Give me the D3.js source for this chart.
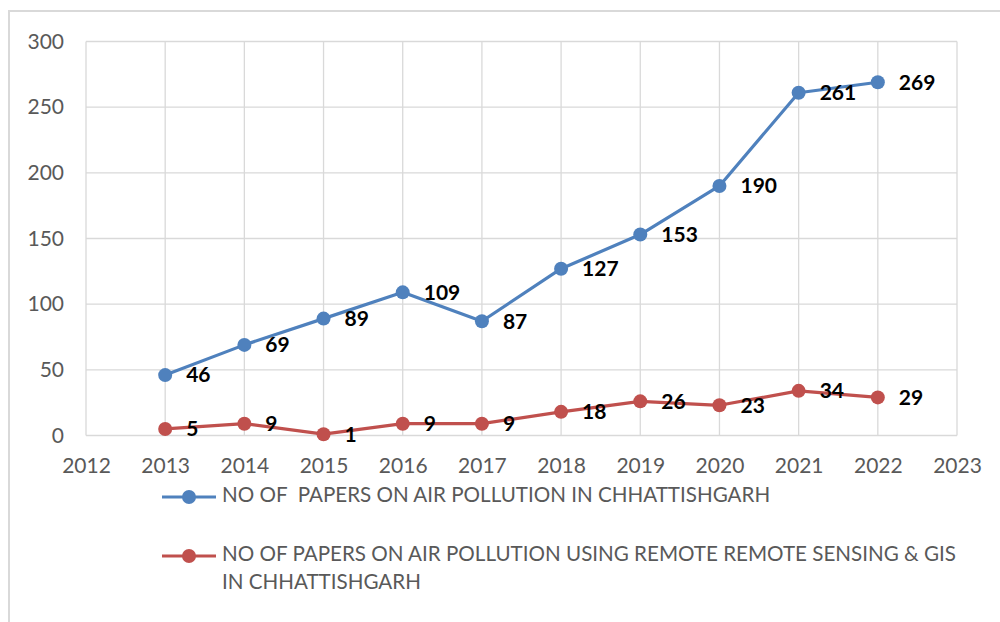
<!DOCTYPE html>
<html><head><meta charset="utf-8">
<script src="https://cdn.jsdelivr.net/npm/d3@7"></script>
<style>body{margin:0;background:#fff;} svg{display:block;} text{white-space:pre;}</style>
</head><body>
<svg id="c" width="1000" height="622"></svg>
<script>
const years = [2013,2014,2015,2016,2017,2018,2019,2020,2021,2022];
const papersAll = [46,69,89,109,87,127,153,190,261,269];
const papersRS = [5,9,1,9,9,18,26,23,34,29];
const yTicks = [0,50,100,150,200,250,300];
const xTicks = [2012,2013,2014,2015,2016,2017,2018,2019,2020,2021,2022,2023];
const seriesNames = ["NO OF  PAPERS ON AIR POLLUTION IN CHHATTISHGARH",
  "NO OF PAPERS ON AIR POLLUTION USING REMOTE REMOTE SENSING & GIS|IN CHHATTISHGARH"];
const colors = ["#4F81BD","#C0504D"];

const svg = d3.select("#c");
const font = "Lato, 'Open Sans', sans-serif";
// outer frame
svg.append("rect").attr("x",9).attr("y",11).attr("width",1000).attr("height",700)
  .attr("fill","none").attr("stroke","#d9d9d9").attr("stroke-width",2);

const x = d3.scaleLinear().domain([2012,2023]).range([86,957]);
const y = d3.scaleLinear().domain([0,300]).range([435.5,41.5]);

const g = svg.append("g");
// grid
g.selectAll(".hg").data(yTicks).join("line")
  .attr("x1",x(2012)).attr("x2",x(2023)).attr("y1",d=>y(d)).attr("y2",d=>y(d))
  .attr("stroke","#d9d9d9").attr("stroke-width",1.3);
g.selectAll(".vg").data(xTicks).join("line")
  .attr("y1",y(0)).attr("y2",y(300)).attr("x1",d=>x(d)).attr("x2",d=>x(d))
  .attr("stroke","#d9d9d9").attr("stroke-width",1.3);

// axes using d3 axis
const xAxis = svg.append("g").attr("transform",`translate(0,${y(0)})`)
  .call(d3.axisBottom(x).tickValues(xTicks).tickFormat(d3.format("d")).tickSize(0).tickPadding(23));
const yAxis = svg.append("g").attr("transform",`translate(${x(2012)},0)`)
  .call(d3.axisLeft(y).tickValues(yTicks).tickSize(0).tickPadding(22));
[xAxis,yAxis].forEach(a=>{
  a.select(".domain").remove();
  a.selectAll("text").attr("fill","#595959").style("font-family",font).style("font-size","21px");
});

const seriesData = [papersAll, papersRS];
const line = d3.line().x((d,i)=>x(years[i])).y(d=>y(d));
seriesData.forEach((vals,si)=>{
  g.append("path").datum(vals).attr("d",line).attr("fill","none")
    .attr("stroke",colors[si]).attr("stroke-width",3.2).attr("stroke-linejoin","round");
  g.selectAll(".pt"+si).data(vals).join("circle")
    .attr("cx",(d,i)=>x(years[i])).attr("cy",d=>y(d)).attr("r",7).attr("fill",colors[si]);
  g.selectAll(".lb"+si).data(vals).join("text")
    .attr("x",(d,i)=>x(years[i])+21).attr("y",d=>y(d)+2)
    .attr("dominant-baseline","middle")
    .style("font-family",font).style("font-weight","bold").style("font-size","21px")
    .attr("fill","#000").text(d=>d);
});

// legend
const legY = [497, 556];
seriesNames.forEach((name,si)=>{
  const ly = legY[si];
  svg.append("line").attr("x1",162).attr("x2",216).attr("y1",ly).attr("y2",ly)
    .attr("stroke",colors[si]).attr("stroke-width",3.2);
  svg.append("circle").attr("cx",189).attr("cy",ly).attr("r",7).attr("fill",colors[si]);
  name.split("|").forEach((t,li)=>{
    svg.append("text").attr("x",222).attr("y",ly+li*28).attr("dominant-baseline","middle")
      .attr("fill","#595959").style("font-family",font).style("font-size","20.6px").text(t);
  });
});
</script>
</body></html>
